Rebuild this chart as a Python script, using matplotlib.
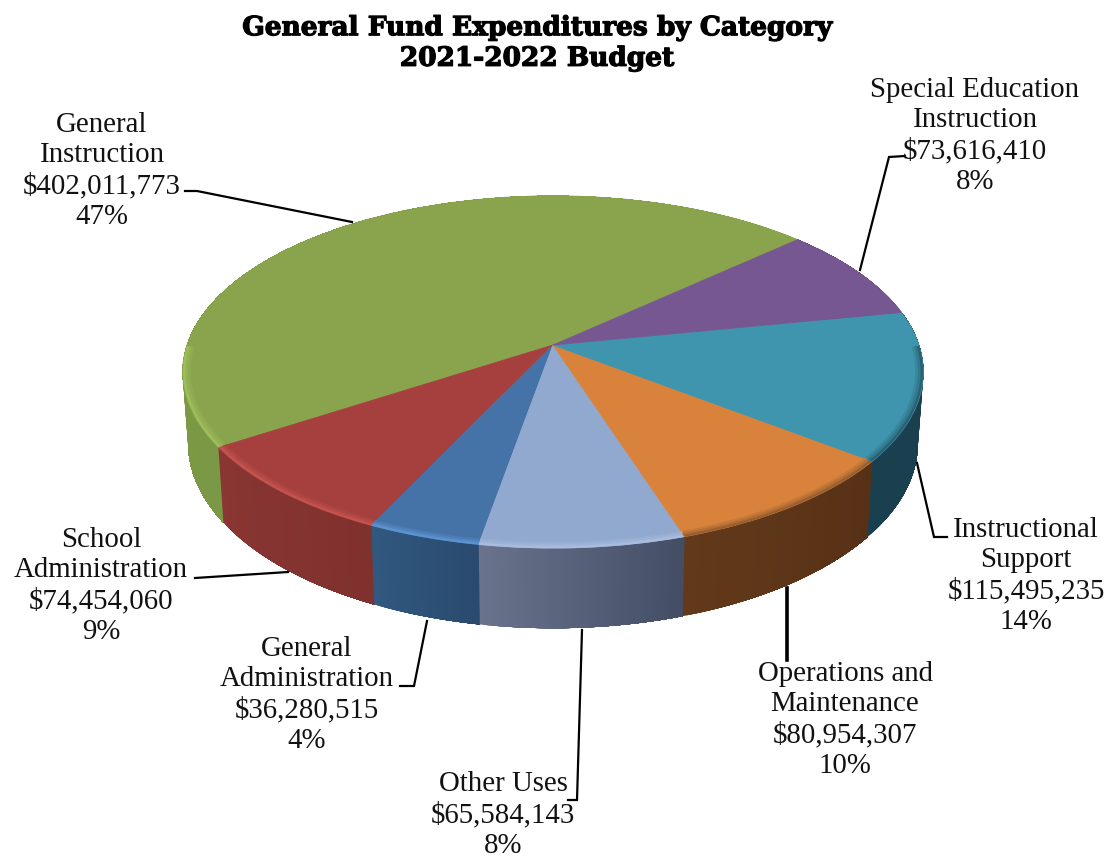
import numpy as np
import matplotlib
matplotlib.use("Agg")
import matplotlib.pyplot as plt
import matplotlib.patheffects as pe
from matplotlib.colors import to_rgb
from matplotlib.patches import Polygon
from matplotlib.transforms import Transform

# ---- data (pie order, counter-clockwise from the top right) ----
categories = ["General\nInstruction", "School\nAdministration", "General\nAdministration",
              "Other Uses", "Operations and\nMaintenance", "Instructional\nSupport",
              "Special Education\nInstruction"]
amounts = [402011773, 74454060, 36280515, 65584143, 80954307, 115495235, 73616410]
percents = ["47%", "9%", "4%", "8%", "10%", "14%", "8%"]
start_angle = 42.5

top_colors = ["#8AA44D", "#A5403E", "#4573A8", "#92A9CF", "#D9823B", "#3F94AE", "#775791"]
wall_left = ["#83A44A", "#8A3633", "#31587F", "#69738C", "#62391A", "#1A4050", "#4A3560"]
wall_right = ["#7A9845", "#7F312E", "#2A4A6F", "#434E65", "#573116", "#1B3F4F", "#4A3560"]
rim_colors = ["#9DBE5A", "#C4524F", "#5C92D0", "#A8BCDD", "#9A6030", "#2A6274", "#5A4070"]

label_centers = [(102, 171), (101, 586), (307, 695), (503, 815), (845, 720), (1026, 576), (975, 136)]
leaders = [
    ([185, 197, 352], [191, 191, 222], 1.6),
    ([195, 288], [578, 572], 1.6),
    ([427, 414, 400], [621, 686, 686], 1.6),
    ([582, 577, 568], [630, 800, 800], 1.6),
    ([787, 787], [588, 660], 2.6),
    ([917, 934, 947], [463, 537, 537], 1.6),
    ([905, 889, 860], [156, 157, 270], 1.6),
]

title_lines = "General Fund Expenditures by Category\n2021-2022 Budget"

# ---- projection of the unit pie to the page ----
APEX_X, APEX_Y = 553.0, 345.0
A, B, K = 366.0, 172.0, 0.153


def project(xy):
    xy = np.asarray(xy, float)
    u, v = xy[..., 0], xy[..., 1]
    w = 1 + K * v
    return np.stack([APEX_X + A * u / w, APEX_Y - B * v / w], axis=-1)


class Perspective(Transform):
    input_dims = 2
    output_dims = 2
    is_separable = False
    has_inverse = False

    def transform_non_affine(self, values):
        return project(values)


def lower(p):
    """Lower rim of the disc for page points of the upper rim."""
    x = APEX_X + (p[..., 0] - APEX_X) * 0.985
    y = APEX_Y + (p[..., 1] - APEX_Y) * 1.05 + 70
    return np.stack([x, y], axis=-1)


fig = plt.figure(figsize=(11.09, 8.61), dpi=100, facecolor="white")
ax = fig.add_axes([0, 0, 1, 1])

values = np.array(amounts, float)
wedges, _ = ax.pie(values, colors=top_colors, startangle=start_angle, counterclock=True,
                   radius=1, center=(0, 0), wedgeprops={"linewidth": 0.6}, normalize=True)
persp = Perspective() + ax.transData
for wedge, col in zip(wedges, top_colors):
    wedge.set_transform(persp)
    wedge.set_edgecolor(col)
    wedge.set_zorder(3)

ax.set_aspect("auto")
ax.set_xlim(0, 1109)
ax.set_ylim(861, 0)
ax.set_axis_off()

# side wall and highlighted rim, sliced from the same values
edges = start_angle + np.concatenate([[0], np.cumsum(values / values.sum() * 360)])
for i in range(len(values)):
    th0, th1 = edges[i], edges[i + 1]
    thetas = np.linspace(th0, th1, max(int((th1 - th0) * 2), 4))
    rad = np.radians(thetas)
    upper = project(np.stack([np.cos(rad), np.sin(rad)], axis=-1))
    low = lower(upper)
    c0, c1 = np.array(to_rgb(wall_left[i])), np.array(to_rgb(wall_right[i]))
    n = len(thetas)
    for j in range(n - 1):
        f = j / (n - 2)
        col = tuple(c0 * (1 - f) + c1 * f)
        # each strip runs under the next one so no seams show
        ax.add_patch(Polygon(np.vstack([upper[j:], low[j:][::-1]]), closed=True,
                             facecolor=col, edgecolor="none", linewidth=0, zorder=2))
    # highlight only on the visible front of the disc
    mask = np.sin(rad) < 0.0
    if mask.sum() > 1:
        rim_c = np.array(to_rgb(rim_colors[i]))
        top_c = np.array(to_rgb(top_colors[i]))
        for rr, lw, mix in [(0.985, 3.5, 0.25), (0.99, 2.6, 0.55), (0.996, 1.8, 1.0)]:
            rim = project(np.stack([rr * np.cos(rad[mask]), rr * np.sin(rad[mask])], axis=-1))
            ax.plot(rim[:, 0], rim[:, 1], color=tuple(top_c * (1 - mix) + rim_c * mix), lw=lw,
                    zorder=4, solid_capstyle="butt")

# leaders
for xs, ys, lw in leaders:
    ax.plot(xs, ys, color="black", lw=lw, zorder=6, solid_joinstyle="miter")

# labels
serif = ["Liberation Serif", "DejaVu Serif"]
for cat, amt, pct, (x, y) in zip(categories, amounts, percents, label_centers):
    ax.text(x, y, f"{cat}\n${amt:,}\n{pct}", ha="center", va="center", family=serif,
            fontsize=20.8, color="#111111", linespacing=1.23, zorder=7)

ax.text(537, 43, title_lines, ha="center", va="center", family="DejaVu Serif", fontsize=19,
        fontweight="bold", color="black", linespacing=1.28, zorder=7,
        path_effects=[pe.withStroke(linewidth=0.9, foreground="black")])

fig.savefig("out.png", dpi=100, facecolor="white")
